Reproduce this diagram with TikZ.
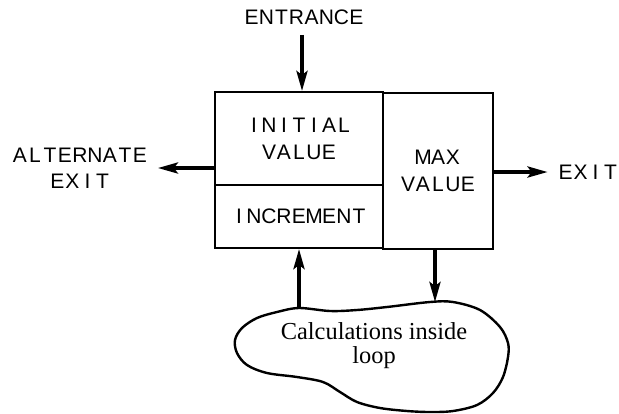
\documentclass[tikz,border=0pt]{standalone}
\usepackage{fontspec}
\setmainfont{Liberation Serif}
\newfontfamily\capsfont{Liberation Sans}
\usetikzlibrary{arrows.meta}
\def\lett#1{\letti#1\relax}
\def\letti#1{\ifx#1\relax\else\makebox[7.5pt]{#1}\expandafter\letti\fi}
\begin{document}
\begin{tikzpicture}[x=0.5pt,y=-0.5pt,
  cell/.style={draw,line width=1pt,inner sep=0pt,align=center,font=\capsfont\fontsize{10.5}{13.5}\selectfont},
  lbl/.style={inner sep=5pt,align=center,font=\capsfont\fontsize{10.5}{13}\selectfont},
  arr/.style={line width=1.8pt,-{Stealth[length=10pt,width=5.5pt,inset=2pt]}}]
\useasboundingbox (0,0) rectangle (619,413);
\node[cell,minimum width=84pt,minimum height=46.5pt] (init) at (299,138.5) {\lett{INITIAL}\\\lett{VALUE}};
\node[cell,minimum width=84pt,minimum height=31.5pt] (inc) at (299,216.5) {\lett{INCREMENT}};
\node[cell,minimum width=55pt,minimum height=78pt] (maxv) at (438,171) {\lett{MAX}\\\lett{VALUE}};
\node[lbl] (entr) at (304,17) {\lett{ENTRANCE}};
\node[lbl] (alt) at (80,168) {\lett{ALTERNATE}\\\lett{EXIT}};
\node[lbl,inner sep=5pt] (exit) at (588,172) {\lett{EXIT}};
\draw[line width=1.2pt] plot[smooth cycle,tension=0.55] coordinates {(299,308) (330,311) (357,310) (387,307) (430,302) (453,302) (480,310) (500,327) (508,343) (508,357) (503,377) (493,393) (477,405) (453,411) (430,412) (407,411) (380,408) (357,402) (340,392) (323,382) (297,377) (267,373) (247,365) (237,353) (235,340) (242,328) (257,318) (277,312)};
\coordinate (cloudA) at (299,308);
\coordinate (cloudB) at (435,302);
\node[font=\fontsize{12.2}{12}\selectfont,align=center] (calc) at (374,346) {Calculations inside\\loop};
\draw[arr] (entr.south -| 302,0) -- (302,0 |- init.north);
\draw[arr] (init.west |- alt) -- (alt);
\draw[arr] (maxv.east |- exit) -- (exit);
\draw[arr] (cloudA) -- (cloudA |- inc.south);
\draw[arr] (cloudB |- maxv.south) -- (cloudB);
\end{tikzpicture}
\end{document}
